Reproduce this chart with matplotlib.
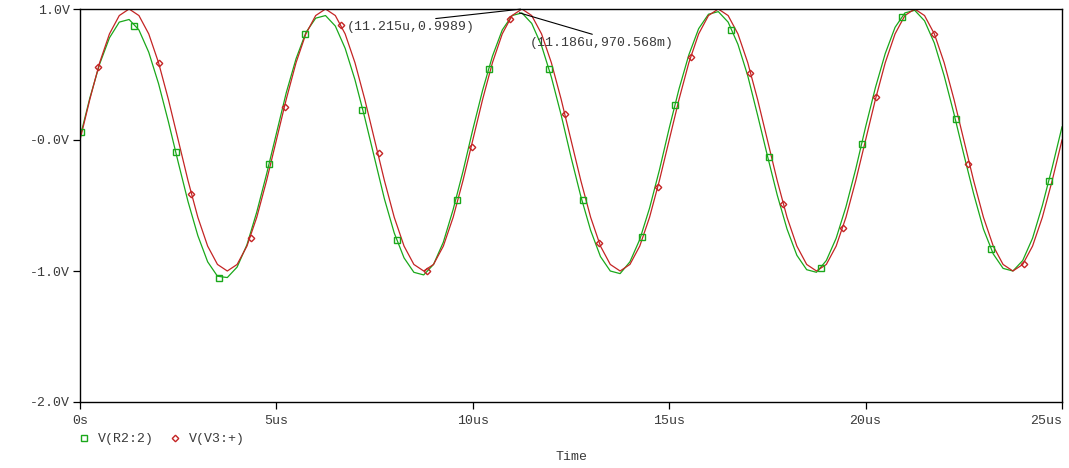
import numpy as np
import matplotlib
matplotlib.use("Agg")
import matplotlib.pyplot as plt
from matplotlib.lines import Line2D

# sample instants of the transient run, in microseconds (0.25us step)
time_us = np.arange(0, 25.001, 0.25)

# V(V3:+) source voltage
v_v3 = [
    0.00, 0.31, 0.59, 0.81, 0.95, 1.00, 0.95, 0.81, 0.59, 0.31,
    0.00, -0.31, -0.59, -0.81, -0.95, -1.00, -0.95, -0.81, -0.59, -0.31,
    0.00, 0.31, 0.59, 0.81, 0.95, 1.00, 0.95, 0.81, 0.59, 0.31,
    0.00, -0.31, -0.59, -0.81, -0.95, -1.00, -0.95, -0.81, -0.59, -0.31,
    0.00, 0.31, 0.59, 0.81, 0.95, 1.00, 0.95, 0.81, 0.59, 0.31,
    0.00, -0.31, -0.59, -0.81, -0.95, -1.00, -0.95, -0.81, -0.59, -0.31,
    0.00, 0.31, 0.59, 0.81, 0.95, 1.00, 0.95, 0.81, 0.59, 0.31,
    0.00, -0.31, -0.59, -0.81, -0.95, -1.00, -0.95, -0.81, -0.59, -0.31,
    0.00, 0.31, 0.59, 0.81, 0.95, 1.00, 0.95, 0.81, 0.59, 0.31,
    0.00, -0.31, -0.59, -0.81, -0.95, -1.00, -0.95, -0.81, -0.59, -0.31,
    0.00,
]

# V(R2:2) node voltage
v_r2 = [
    0.02, 0.32, 0.58, 0.78, 0.90, 0.92, 0.84, 0.67, 0.43, 0.14,
    -0.17, -0.47, -0.73, -0.93, -1.04, -1.05, -0.97, -0.80, -0.55, -0.26,
    0.05, 0.36, 0.62, 0.82, 0.93, 0.95, 0.87, 0.70, 0.46, 0.17,
    -0.14, -0.45, -0.71, -0.90, -1.01, -1.03, -0.95, -0.78, -0.53, -0.24,
    0.08, 0.38, 0.64, 0.84, 0.95, 0.97, 0.89, 0.72, 0.48, 0.19,
    -0.13, -0.43, -0.69, -0.89, -1.00, -1.02, -0.93, -0.76, -0.52, -0.23,
    0.09, 0.39, 0.65, 0.85, 0.96, 0.98, 0.90, 0.73, 0.49, 0.19,
    -0.12, -0.42, -0.68, -0.88, -0.99, -1.01, -0.92, -0.75, -0.51, -0.22,
    0.10, 0.40, 0.66, 0.86, 0.97, 0.99, 0.91, 0.74, 0.49, 0.20,
    -0.11, -0.41, -0.68, -0.87, -0.98, -1.00, -0.92, -0.75, -0.50, -0.21,
    0.10,
]

# trace symbols as placed by the probe
r2_mark_t = [0.03, 1.37, 2.44, 3.54, 4.81, 5.73, 7.18, 8.07, 9.60, 10.41, 11.94,
             12.81, 14.31, 15.15, 16.57, 17.54, 18.86, 19.90, 20.93, 22.30, 23.19, 24.67]
r2_mark_v = [0.06, 0.87, -0.09, -1.05, -0.18, 0.81, 0.23, -0.76, -0.46, 0.54, 0.54,
             -0.46, -0.74, 0.27, 0.84, -0.13, -0.98, -0.03, 0.94, 0.16, -0.83, -0.31]
v3_mark_t = [0.46, 2.01, 2.83, 4.35, 5.23, 6.65, 7.61, 8.83, 9.98, 10.95, 12.35,
             13.21, 14.71, 15.55, 17.06, 17.90, 19.42, 20.26, 21.74, 22.60, 24.03]
v3_mark_v = [0.56, 0.59, -0.41, -0.75, 0.25, 0.88, -0.10, -1.00, -0.05, 0.92, 0.20,
             -0.79, -0.36, 0.63, 0.51, -0.49, -0.67, 0.33, 0.81, -0.18, -0.95]

# cursor readouts
cursor_v3 = (11.215, 0.9989)
cursor_r2 = (11.186, 0.970568)

x_ticks = [0, 5, 10, 15, 20, 25]
x_labels = ['0s', '5us', '10us', '15us', '20us', '25us']
y_ticks = [1, 0, -1, -2]
y_labels = ['1.0V', '-0.0V', '-1.0V', '-2.0V']

GREEN = '#1aa81a'
RED = '#c42424'
TXT = '#3a3a3a'

plt.rcParams['font.family'] = ['Liberation Mono', 'DejaVu Sans Mono']
plt.rcParams['font.size'] = 9.5

fig = plt.figure(figsize=(10.69, 4.68), dpi=100)
ax = fig.add_axes([80 / 1069, 1 - 402 / 468, 982 / 1069, 393 / 468])

ax.plot(time_us, v_r2, color=GREEN, lw=0.9)
ax.plot(time_us, v_v3, color=RED, lw=0.9)
ax.plot(r2_mark_t, r2_mark_v, ls='none', marker='s', ms=4.5, mfc='none',
        mec=GREEN, mew=1.0)
ax.plot(v3_mark_t, v3_mark_v, ls='none', marker='D', ms=3.3, mfc='none',
        mec=RED, mew=1.0)

ax.set_xlim(0, 25)
ax.set_ylim(-2, 1)
ax.set_xticks(x_ticks)
ax.set_xticklabels(x_labels)
ax.set_yticks(y_ticks)
ax.set_yticklabels(y_labels)
ax.tick_params(axis='both', direction='out', length=5, width=0.9, colors='black',
               labelcolor=TXT)
ax.tick_params(axis='x', pad=4)
ax.tick_params(axis='y', pad=2.5)
# last time label sits flush with the right edge, as PSpice does
ax.get_xticklabels()[-1].set_horizontalalignment('right')
for s in ax.spines.values():
    s.set_linewidth(1.0)
    s.set_color('black')

ax.annotate('(%.3fu,%.4f)' % cursor_v3, xy=cursor_v3, xytext=(6.79, 0.86),
            ha='left', va='center', color=TXT,
            arrowprops=dict(arrowstyle='-', color='black', lw=0.8,
                            shrinkA=0, shrinkB=0, relpos=(0.5, 1.0)))
ax.annotate('(%.3fu,%.3fm)' % (cursor_r2[0], cursor_r2[1] * 1000), xy=cursor_r2,
            xytext=(11.45, 0.74), ha='left', va='center', color=TXT,
            arrowprops=dict(arrowstyle='-', color='black', lw=0.8,
                            shrinkA=0, shrinkB=0, relpos=(0.5, 1.0)))

handles = [
    Line2D([], [], ls='none', marker='s', ms=4.5, mfc='none', mec=GREEN, mew=1.0),
    Line2D([], [], ls='none', marker='D', ms=3.3, mfc='none', mec=RED, mew=1.0),
]
fig.legend(handles, ['V(R2:2)', 'V(V3:+)'], loc='center left',
           bbox_to_anchor=(78.7 / 1069, 1 - 439 / 468), ncol=2, frameon=False,
           handlelength=0.8, handletextpad=0.67, columnspacing=1.15,
           borderpad=0, borderaxespad=0, labelcolor=TXT)

fig.text(571 / 1069, 1 - 457 / 468, 'Time', ha='center', va='center', color=TXT)

fig.savefig('out.png', dpi=100, facecolor='white')
